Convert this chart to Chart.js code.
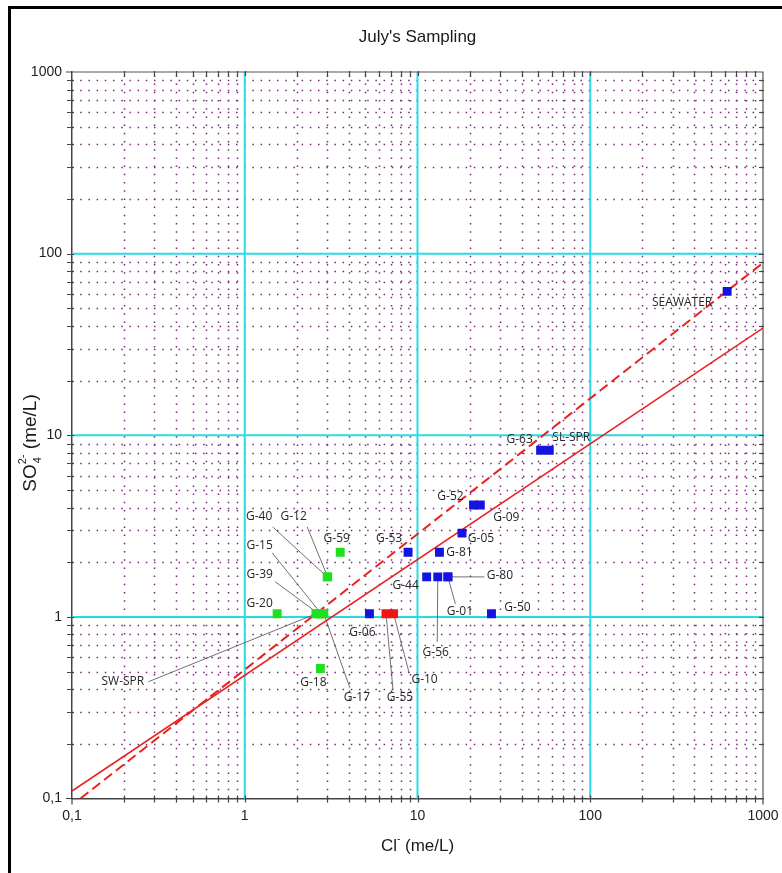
<!DOCTYPE html>
<html>
<head>
<meta charset="utf-8">
<title>July's Sampling</title>
<script src="https://cdn.jsdelivr.net/npm/chart.js@4.4.1/dist/chart.umd.min.js"></script>
<style>
  html, body { margin: 0; padding: 0; background: #fff; }
  #wrap { position: relative; width: 782px; height: 873px; }
</style>
</head>
<body>
<div id="wrap"><canvas id="chart" width="782" height="873"></canvas></div>
<script>
// Cl- vs SO4 2- (me/L), log-log, July campaign

const decadeTicks = [0.1, 1, 10, 100, 1000];
const tickText = ['0,1', '1', '10', '100', '1000'];

// green group
const greenNames = ['G-20', 'SW-SPR', 'G-39', 'G-15', 'G-17', 'G-40', 'G-12', 'G-59', 'G-18'];
const greenCl = [1.54, 2.58, 2.68, 2.77, 2.87, 3.0, 3.02, 3.57, 2.74];
const greenSO4 = [1.04, 1.04, 1.04, 1.04, 1.04, 1.66, 1.66, 2.27, 0.52];

// blue group
const blueNames = ['G-06', 'G-53', 'G-44', 'G-81', 'G-56', 'G-80', 'G-01', 'G-05', 'G-52', 'G-09', 'G-50', 'G-63', 'SL-SPR', 'SEAWATER'];
const blueCl = [5.27, 8.82, 11.3, 13.4, 13.1, 15.0, 15.0, 18.1, 21.1, 23.1, 26.8, 51.6, 57.9, 620];
const blueSO4 = [1.04, 2.27, 1.66, 2.27, 1.66, 1.66, 1.66, 2.89, 4.13, 4.13, 1.04, 8.26, 8.26, 62];

// red group
const redNames = ['G-55', 'G-10'];
const redCl = [6.57, 7.27];
const redSO4 = [1.04, 1.04];

// reference lines (end points)
const fitCl = [0.1, 1000];
const fitSO4 = [0.11, 38.9];
const mixCl = [0.112, 1000];
const mixSO4 = [0.1, 89];

// label placement: text centre offset from the point (dx, dy),
// optional leader start offset from the text centre (lx, ly)
const callouts = {
  'SEAWATER': { dx: -45, dy: 11 },
  'G-63': { dx: -21, dy: -11 },
  'SL-SPR': { dx: 22, dy: -13 },
  'G-52': { dx: -23, dy: -8 },
  'G-09': { dx: 26, dy: 13 },
  'G-05': { dx: 19, dy: 5 },
  'G-53': { dx: -19, dy: -14 },
  'G-81': { dx: 20, dy: 0 },
  'G-44': { dx: -21, dy: 9 },
  'G-56': { dx: -2, dy: 76, lx: 1.5, ly: -11 },
  'G-80': { dx: 52, dy: -1, lx: -15.5, ly: 1 },
  'G-01': { dx: 12, dy: 35, lx: -4.5, ly: -8 },
  'G-06': { dx: -7, dy: 18.5 },
  'G-50': { dx: 26, dy: -6 },
  'G-55': { dx: 14, dy: 84, lx: -7, ly: -8 },
  'G-10': { dx: 31, dy: 66, lx: -15.5, ly: -7 },
  'G-59': { dx: -3.5, dy: -14 },
  'G-40': { dx: -68, dy: -60, lx: 13.5, ly: 10 },
  'G-12': { dx: -34, dy: -60, lx: 13.5, ly: 10 },
  'G-15': { dx: -61.5, dy: -68, lx: 12.5, ly: 7 },
  'G-39': { dx: -59, dy: -39, lx: 15.5, ly: 7 },
  'G-20': { dx: -17.5, dy: -10 },
  'SW-SPR': { dx: -193, dy: 68, lx: 25.5, ly: 0 },
  'G-17': { dx: 33, dy: 84, lx: -7, ly: -10 },
  'G-18': { dx: -7, dy: 14 }
};

const toPoints = (xs, ys) => xs.map((v, i) => ({ x: v, y: ys[i] }));

const groups = [
  { names: greenNames, xs: greenCl, ys: greenSO4, color: '#1fe01f' },
  { names: blueNames, xs: blueCl, ys: blueSO4, color: '#1414e0' },
  { names: redNames, xs: redCl, ys: redSO4, color: '#f01414' }
];

function minorValues() {
  const out = [];
  for (let i = 0; i < decadeTicks.length - 1; i++) {
    for (let m = 2; m <= 9; m++) out.push(decadeTicks[i] * m);
  }
  return out;
}

// outer frame, title and axis titles
const framePlugin = {
  id: 'frame',
  beforeDraw(chart) {
    const { ctx } = chart;
    ctx.save();
    ctx.fillStyle = '#fff';
    ctx.fillRect(0, 0, chart.width, chart.height);
    ctx.fillStyle = '#000';
    ctx.fillRect(8, 6, chart.width - 8, 3);
    ctx.fillRect(8, 6, 3, chart.height - 6);
    ctx.restore();
  },
  afterDraw(chart) {
    const { ctx, chartArea: a } = chart;
    const cx = (a.left + a.right) / 2;
    ctx.save();
    ctx.fillStyle = '#1a1a1a';
    ctx.textBaseline = 'middle';
    ctx.textAlign = 'center';
    ctx.font = '17px "Liberation Sans", Arial, sans-serif';
    ctx.fillText("July's Sampling", cx, 37);

    // x title: Cl⁻ (me/L)
    ctx.textAlign = 'left';
    ctx.textBaseline = 'alphabetic';
    let big = '17px "Liberation Sans", Arial, sans-serif';
    let small = '10px "Liberation Sans", Arial, sans-serif';
    ctx.font = big;
    const wCl = ctx.measureText('Cl').width;
    const wRest = ctx.measureText(' (me/L)').width;
    ctx.font = small;
    const wMinus = ctx.measureText('-').width;
    let x0 = cx - (wCl + wMinus + wRest) / 2;
    const base = 851;
    ctx.font = big;
    ctx.fillText('Cl', x0, base);
    ctx.font = small;
    ctx.fillText('-', x0 + wCl, base - 9);
    ctx.font = big;
    ctx.fillText(' (me/L)', x0 + wCl + wMinus, base);

    // y title: SO4 2- (me/L), rotated
    big = '19px "Liberation Sans", Arial, sans-serif';
    small = '11px "Liberation Sans", Arial, sans-serif';
    ctx.translate(29, 443);
    ctx.rotate(-Math.PI / 2);
    ctx.font = big;
    const wSO = ctx.measureText('SO').width;
    const wR = ctx.measureText(' (me/L)').width;
    ctx.font = small;
    const wSup = ctx.measureText('2-').width;
    x0 = -(wSO + wSup + wR) / 2;
    const b = 7;
    ctx.font = big;
    ctx.fillText('SO', x0, b);
    ctx.font = small;
    ctx.fillText('2-', x0 + wSO, b - 10);
    ctx.fillText('4', x0 + wSO + 1, b + 5);
    ctx.font = big;
    ctx.fillText(' (me/L)', x0 + wSO + wSup, b);
    ctx.restore();
  }
};

// dotted minor grid, cyan decade lines, tick marks and leaders
const gridPlugin = {
  id: 'logGrid',
  beforeDatasetsDraw(chart) {
    const { ctx, chartArea: a, scales: { x, y } } = chart;
    const minors = minorValues();
    ctx.save();

    ctx.strokeStyle = '#7a2a7a';
    ctx.lineWidth = 1.5;
    ctx.setLineDash([1.5, 6.7]);
    minors.forEach(v => {
      const px = Math.round(x.getPixelForValue(v)) + 0.5;
      ctx.beginPath();
      ctx.moveTo(px, a.bottom);
      ctx.lineTo(px, a.top);
      ctx.stroke();
      const py = Math.round(y.getPixelForValue(v)) + 0.5;
      ctx.beginPath();
      ctx.moveTo(a.left, py);
      ctx.lineTo(a.right, py);
      ctx.stroke();
    });
    ctx.setLineDash([]);

    ctx.strokeStyle = '#2adbe6';
    ctx.lineWidth = 2;
    decadeTicks.slice(1, -1).forEach(v => {
      const px = x.getPixelForValue(v);
      ctx.beginPath();
      ctx.moveTo(px, a.top);
      ctx.lineTo(px, a.bottom);
      ctx.stroke();
      const py = y.getPixelForValue(v);
      ctx.beginPath();
      ctx.moveTo(a.left, py);
      ctx.lineTo(a.right, py);
      ctx.stroke();
    });

    // top and right edges
    ctx.strokeStyle = '#555';
    ctx.lineWidth = 1.2;
    ctx.beginPath();
    ctx.moveTo(a.left, a.top);
    ctx.lineTo(a.right, a.top);
    ctx.lineTo(a.right, a.bottom);
    ctx.stroke();

    // ticks on all four sides
    ctx.strokeStyle = '#444';
    ctx.lineWidth = 1.2;
    const all = minors.concat(decadeTicks.slice(1, -1));
    all.forEach(v => {
      const px = Math.round(x.getPixelForValue(v)) + 0.5;
      const py = Math.round(y.getPixelForValue(v)) + 0.5;
      ctx.beginPath();
      ctx.moveTo(px, a.bottom - 3); ctx.lineTo(px, a.bottom + 4);
      ctx.moveTo(px, a.top - 1); ctx.lineTo(px, a.top + 4);
      ctx.moveTo(a.left - 5, py); ctx.lineTo(a.left + 2, py);
      ctx.moveTo(a.right - 4, py); ctx.lineTo(a.right + 1, py);
      ctx.stroke();
    });
    ctx.beginPath();
    ctx.moveTo(a.left - 6, a.bottom); ctx.lineTo(a.left, a.bottom);
    ctx.moveTo(a.left, a.bottom); ctx.lineTo(a.left, a.bottom + 6);
    ctx.moveTo(a.left - 6, a.top); ctx.lineTo(a.left, a.top);
    ctx.moveTo(a.right, a.bottom); ctx.lineTo(a.right, a.bottom + 6);
    ctx.stroke();

    // leader lines
    ctx.strokeStyle = '#4d4d4d';
    ctx.lineWidth = 0.8;
    groups.forEach(g => {
      g.names.forEach((name, i) => {
        const c = callouts[name];
        if (!c || c.lx === undefined) return;
        const px = x.getPixelForValue(g.xs[i]);
        const py = y.getPixelForValue(g.ys[i]);
        ctx.beginPath();
        ctx.moveTo(px + c.dx + c.lx, py + c.dy + c.ly);
        ctx.lineTo(px, py);
        ctx.stroke();
      });
    });
    ctx.restore();
  },
  afterDatasetsDraw(chart) {
    const { ctx, scales: { x, y } } = chart;
    ctx.save();
    ctx.fillStyle = '#262626';
    ctx.font = '12px "Open Sans", "Noto Sans", sans-serif';
    ctx.textAlign = 'center';
    ctx.textBaseline = 'middle';
    groups.forEach(g => {
      g.names.forEach((name, i) => {
        const c = callouts[name];
        if (!c) return;
        const px = x.getPixelForValue(g.xs[i]);
        const py = y.getPixelForValue(g.ys[i]);
        ctx.fillText(name, px + c.dx, py + c.dy);
      });
    });
    ctx.restore();
  }
};

const tickFont = { family: '"Liberation Sans", Arial, sans-serif', size: 14 };

const pointSet = (g, label) => ({
  type: 'scatter',
  label,
  data: toPoints(g.xs, g.ys),
  pointStyle: 'rect',
  pointRadius: 6.3,
  pointHoverRadius: 6.3,
  pointBorderWidth: 0,
  backgroundColor: g.color,
  borderColor: g.color,
  order: 1
});

new Chart(document.getElementById('chart'), {
  type: 'scatter',
  data: {
    datasets: [
      pointSet(groups[0], 'green'),
      pointSet(groups[1], 'blue'),
      pointSet(groups[2], 'red'),
      {
        type: 'line',
        label: 'fit',
        data: toPoints(fitCl, fitSO4),
        borderColor: '#e8231f',
        borderWidth: 1.6,
        pointRadius: 0,
        fill: false,
        order: 2
      },
      {
        type: 'line',
        label: 'mix',
        data: toPoints(mixCl, mixSO4),
        borderColor: '#e8231f',
        borderWidth: 2,
        borderDash: [10, 5],
        pointRadius: 0,
        fill: false,
        order: 2
      }
    ]
  },
  options: {
    responsive: false,
    animation: false,
    devicePixelRatio: 1,
    layout: { padding: { left: 10, right: 19, top: 72, bottom: 0 } },
    plugins: {
      legend: { display: false },
      tooltip: { enabled: false },
      title: { display: false }
    },
    scales: {
      x: {
        type: 'logarithmic',
        min: 0.1,
        max: 1000,
        afterBuildTicks: s => { s.ticks = decadeTicks.map(v => ({ value: v, major: true })); },
        afterFit: s => { s.height = 74.5; s.paddingLeft = 0; s.paddingRight = 0; },
        ticks: {
          callback: (v, i) => tickText[i],
          font: tickFont,
          color: '#222',
          padding: 9,
          maxRotation: 0,
          autoSkip: false
        },
        grid: { display: false, drawTicks: false },
        border: { display: true, color: '#444', width: 1.5 }
      },
      y: {
        type: 'logarithmic',
        min: 0.1,
        max: 1000,
        afterBuildTicks: s => { s.ticks = decadeTicks.map(v => ({ value: v, major: true })); },
        afterFit: s => { s.width = 62; s.paddingTop = 0; s.paddingBottom = 0; },
        ticks: {
          callback: (v, i) => tickText[i],
          font: tickFont,
          color: '#222',
          padding: 10,
          autoSkip: false
        },
        grid: { display: false, drawTicks: false },
        border: { display: true, color: '#444', width: 1.5 }
      }
    }
  },
  plugins: [framePlugin, gridPlugin]
});
</script>
</body>
</html>
